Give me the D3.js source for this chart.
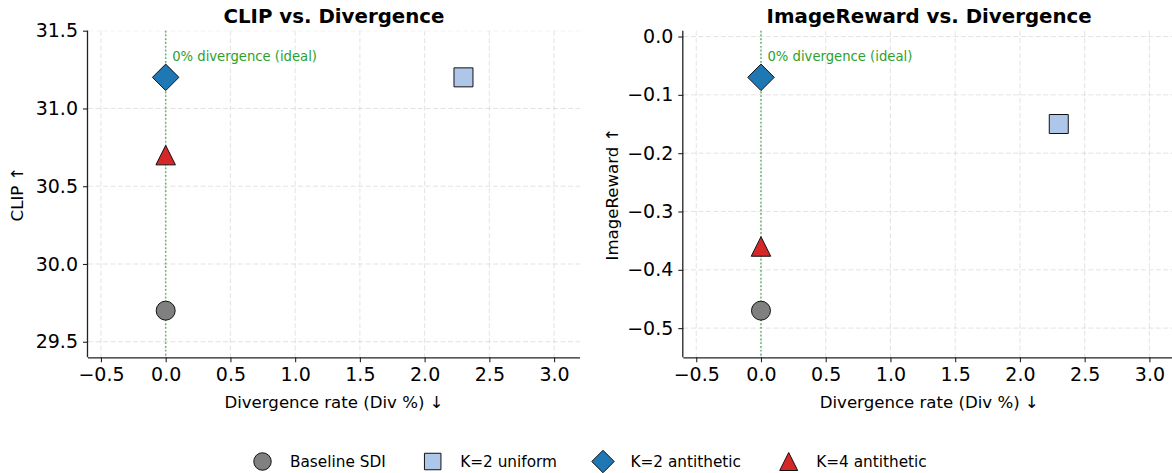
<!DOCTYPE html>
<html>
<head>
<meta charset="utf-8">
<script src="https://cdn.jsdelivr.net/npm/d3@7"></script>
<style>
  html, body { margin: 0; padding: 0; background: #fff; }
  svg { display: block; font-family: "DejaVu Sans", sans-serif; }
</style>
</head>
<body>
<svg id="chart" width="1172" height="473"></svg>
<script>
// ---- data ----
const methods = ["Baseline SDI", "K=2 uniform", "K=2 antithetic", "K=4 antithetic"];
const divergence = [0.0, 2.3, 0.0, 0.0];
const clipScores = [29.7, 31.2, 31.2, 30.7];
const imageReward = [-0.47, -0.15, -0.07, -0.36];
const xTicks = [-0.5, 0.0, 0.5, 1.0, 1.5, 2.0, 2.5, 3.0];
const clipTicks = [29.5, 30.0, 30.5, 31.0, 31.5];
const irTicks = [0.0, -0.1, -0.2, -0.3, -0.4, -0.5];
const idealLabel = "0% divergence (ideal)";

// ---- styles ----
const colors = ["#808080", "#aec7e8", "#1f77b4", "#d62728"];
const shapes = ["circle", "square", "diamond", "triangle"];

const svg = d3.select("#chart");
const fmt = d3.format(".1f");
const minusFmt = v => fmt(v).replace("-", "\u2212");

function markerPath(shape, s) {
  const h = s / 2;
  if (shape === "circle") return d3.symbol(d3.symbolCircle, Math.PI * h * h)();
  if (shape === "square") return `M${-h},${-h}H${h}V${h}H${-h}Z`;
  if (shape === "diamond") { const d = h * 1.36; return `M0,${-d}L${d},0L0,${d}L${-d},0Z`; }
  if (shape === "triangle") return `M0,${-h}L${h},${h}L${-h},${h}Z`;
}
const markerSize = { circle: 19, square: 19, diamond: 19.5, triangle: 19.5 };
const legendSize = { circle: 17.5, square: 16.5, diamond: 16.5, triangle: 18 };

function panel(opts) {
  const { left, right, top, bottom, xDomain, yDomain, yVals, yTicks, title, ylabel, idealFrac } = opts;
  const x = d3.scaleLinear().domain(xDomain).range([left, right]);
  const y = d3.scaleLinear().domain(yDomain).range([bottom, top]);
  const g = svg.append("g");

  const clipId = "clip" + Math.round(left);
  svg.append("clipPath").attr("id", clipId).append("rect")
    .attr("x", left).attr("y", top).attr("width", right - left).attr("height", bottom - top);

  // grid
  const grid = g.append("g").attr("clip-path", `url(#${clipId})`);
  grid.selectAll("line.gx").data(xTicks).join("line")
    .attr("x1", d => x(d)).attr("x2", d => x(d)).attr("y1", top).attr("y2", bottom)
    .attr("stroke", "#b0b0b0").attr("stroke-opacity", 0.35).attr("stroke-width", 1)
    .attr("stroke-dasharray", "5,2.5");
  grid.selectAll("line.gy").data(yTicks).join("line")
    .attr("y1", d => y(d)).attr("y2", d => y(d)).attr("x1", left).attr("x2", right)
    .attr("stroke", "#b0b0b0").attr("stroke-opacity", 0.35).attr("stroke-width", 1)
    .attr("stroke-dasharray", "5,2.5");

  // ideal line
  g.append("line")
    .attr("x1", x(0)).attr("x2", x(0)).attr("y1", top).attr("y2", bottom)
    .attr("stroke", "#2ca02c").attr("stroke-opacity", 0.7).attr("stroke-width", 1.6)
    .attr("stroke-dasharray", "1.7,2.1");
  g.append("text")
    .attr("x", x(0.05)).attr("y", bottom - (bottom - top) * idealFrac)
    .attr("fill", "#2ca02c").attr("font-size", 13.2)
    .text(idealLabel);

  // axes
  const xAxis = d3.axisBottom(x).tickValues(xTicks).tickFormat(minusFmt).tickSize(5).tickPadding(5);
  const yAxis = d3.axisLeft(y).tickValues(yTicks).tickFormat(minusFmt).tickSize(5).tickPadding(5);
  const gx = g.append("g").attr("transform", `translate(0,${bottom})`).call(xAxis);
  const gy = g.append("g").attr("transform", `translate(${left},0)`).call(yAxis);
  [gx, gy].forEach(a => {
    a.select(".domain").attr("stroke", "#222").attr("stroke-width", 1.3);
    a.selectAll(".tick line").attr("stroke", "#222").attr("stroke-width", 1.1);
    a.selectAll(".tick text").attr("fill", "#000").attr("font-size", 19)
      .attr("font-family", "DejaVu Sans");
  });
  gx.select(".domain").attr("d", `M${left},0.5H${right}`);
  gy.select(".domain").attr("d", `M-0.5,${bottom}V${top}`);

  // markers
  g.selectAll("path.pt").data(methods.map((m, i) => i)).join("path")
    .attr("transform", i => `translate(${x(divergence[i])},${y(yVals[i])})`)
    .attr("d", i => markerPath(shapes[i], markerSize[shapes[i]]))
    .attr("fill", i => colors[i])
    .attr("stroke", "#111").attr("stroke-width", 1);

  // title
  svg.append("text").attr("x", (left + Math.min(right, 1175)) / 2).attr("y", 23)
    .attr("text-anchor", "middle").attr("font-size", 19.8).attr("font-weight", "bold")
    .text(title);
  // x label
  svg.append("text").attr("x", (left + right) / 2).attr("y", 408)
    .attr("text-anchor", "middle").attr("font-size", 16.6)
    .text("Divergence rate (Div %) \u2193");
  // y label
  svg.append("text")
    .attr("transform", `translate(${left - 65},${(top + bottom) / 2}) rotate(-90)`)
    .attr("text-anchor", "middle").attr("font-size", 16.6)
    .text(ylabel);
}

panel({
  left: 88, right: 580, top: 30.7, bottom: 357.3,
  xDomain: [-0.6, 3.2], yDomain: [29.4, 31.5],
  yVals: clipScores, yTicks: clipTicks,
  title: "CLIP vs. Divergence", ylabel: "CLIP \u2191", idealFrac: 0.908
});
panel({
  left: 683.3, right: 1175.3, top: 30.7, bottom: 357.3,
  xDomain: [-0.6, 3.2], yDomain: [-0.55, 0.01],
  yVals: imageReward, yTicks: irTicks,
  title: "ImageReward vs. Divergence", ylabel: "ImageReward \u2191", idealFrac: 0.908
});

// legend
const legendX = [262.5, 432.7, 603, 788.7];
const leg = svg.append("g");
methods.forEach((m, i) => {
  leg.append("path")
    .attr("transform", `translate(${legendX[i]},461.5)`)
    .attr("d", markerPath(shapes[i], legendSize[shapes[i]]))
    .attr("fill", colors[i]).attr("stroke", "#111").attr("stroke-width", 1);
  leg.append("text")
    .attr("x", legendX[i] + 27.5).attr("y", 467)
    .attr("font-size", 15.3).text(m);
});
</script>
</body>
</html>
